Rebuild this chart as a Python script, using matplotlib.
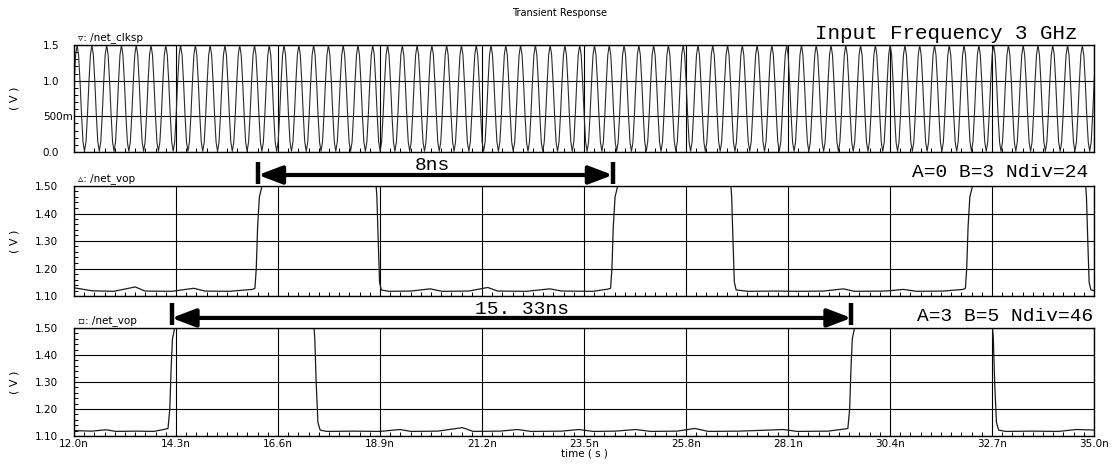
import numpy as np
import matplotlib.pyplot as plt
import matplotlib.transforms as mtransforms
from matplotlib.ticker import FixedLocator

# ---- data (time in ns, voltage in V) ----
x_ticks = [12.0, 14.3, 16.6, 18.9, 21.2, 23.5, 25.8, 28.1, 30.4, 32.7, 35.0]
x_tick_labels = ["12.0n", "14.3n", "16.6n", "18.9n", "21.2n", "23.5n",
                 "25.8n", "28.1n", "30.4n", "32.7n", "35.0n"]

# clock: 3 GHz, one cycle shape (phase, volts), first peak at 12.07n
clk_freq_ghz = 3.0
clk_first_peak = 12.07
clk_phase = [0.0, 0.1, 0.2, 0.3, 0.4, 0.5, 0.6, 0.7, 0.8, 0.9]
clk_volts = [1.50, 1.36, 0.98, 0.52, 0.14, 0.01, 0.14, 0.52, 0.98, 1.36]

# /net_vop  A=0 B=3 Ndiv=24
vop_a_t = [12.00, 12.40, 12.90, 13.38, 13.60, 14.20, 14.70, 14.95, 15.50, 16.02,
           16.08, 16.11, 16.14, 16.18, 16.24, 16.32,
           18.80, 18.83, 18.86, 18.89, 18.93, 19.10, 19.60, 20.03, 20.30, 20.90,
           21.33, 21.55, 22.20, 22.73, 23.00, 23.70, 24.04,
           24.10, 24.13, 24.16, 24.20, 24.26, 24.34,
           26.80, 26.83, 26.86, 26.89, 26.93, 27.20, 27.80, 28.40, 28.90, 29.35,
           29.60, 30.30, 30.70, 31.00, 31.60, 32.05,
           32.10, 32.13, 32.16, 32.20, 32.26, 32.34,
           34.80, 34.83, 34.86, 34.89, 34.93, 35.00]
vop_a_v = [1.130, 1.119, 1.117, 1.133, 1.118, 1.117, 1.128, 1.118, 1.117, 1.124,
           1.128, 1.200, 1.350, 1.460, 1.500, 1.530,
           1.530, 1.460, 1.300, 1.150, 1.122, 1.117, 1.118, 1.126, 1.117, 1.118,
           1.131, 1.118, 1.117, 1.126, 1.118, 1.117, 1.125,
           1.128, 1.200, 1.350, 1.460, 1.500, 1.530,
           1.530, 1.460, 1.300, 1.150, 1.122, 1.117, 1.118, 1.117, 1.118, 1.126,
           1.117, 1.118, 1.124, 1.117, 1.118, 1.124,
           1.128, 1.200, 1.350, 1.460, 1.500, 1.530,
           1.530, 1.460, 1.300, 1.150, 1.122, 1.120]

# /net_vop  A=3 B=5 Ndiv=46
vop_b_t = [12.00, 12.40, 12.72, 12.95, 13.40, 13.80, 14.05,
           14.12, 14.16, 14.19, 14.22, 14.27, 14.34, 14.42,
           17.40, 17.43, 17.46, 17.50, 17.55, 17.70, 18.30, 18.90, 19.35, 19.60,
           20.20, 20.76, 21.00, 21.60, 22.00, 22.30, 23.00, 23.38, 23.70, 24.20,
           24.67, 25.00, 25.60, 26.00, 26.30, 27.00, 28.00, 28.30, 29.00, 29.38,
           29.45, 29.49, 29.52, 29.55, 29.60, 29.67, 29.75,
           32.70, 32.73, 32.76, 32.80, 32.85, 33.00, 33.60, 34.20, 34.60, 35.00]
vop_b_v = [1.120, 1.118, 1.123, 1.117, 1.118, 1.117, 1.125,
           1.128, 1.200, 1.350, 1.460, 1.500, 1.530, 1.530,
           1.530, 1.460, 1.300, 1.150, 1.122, 1.117, 1.118, 1.117, 1.124, 1.117,
           1.118, 1.131, 1.117, 1.118, 1.124, 1.117, 1.118, 1.124, 1.117, 1.118,
           1.124, 1.117, 1.118, 1.128, 1.117, 1.118, 1.124, 1.117, 1.118, 1.126,
           1.128, 1.200, 1.350, 1.460, 1.500, 1.530, 1.530,
           1.530, 1.460, 1.300, 1.150, 1.122, 1.117, 1.118, 1.117, 1.124, 1.122]

# measured intervals (ns)
span_a = (16.15, 24.15)
span_b = (14.20, 29.53)

# ---- clock waveform: repeat one cycle ----
period = 1.0 / clk_freq_ghz
n_cyc = 72
t0 = clk_first_peak - period
clk_t = np.concatenate([t0 + k * period + np.array(clk_phase) * period for k in range(n_cyc)])
clk_v = np.tile(clk_volts, n_cyc)

# ---- figure ----
fig = plt.figure(figsize=(11.2, 4.68), dpi=100)
L, W = 74 / 1120, 1020 / 1120
ax1 = fig.add_axes([L, (468 - 152) / 468, W, 107 / 468])
ax2 = fig.add_axes([L, (468 - 296) / 468, W, 110 / 468])
ax3 = fig.add_axes([L, (468 - 436) / 468, W, 108 / 468])

tick_font = dict(family="DejaVu Sans", size=7.5)
line_kw = dict(color="#1a1a1a", lw=0.9)

ax1.plot(clk_t, clk_v, color="#2a2a2a", lw=0.8)
ax2.plot(vop_a_t, vop_a_v, **line_kw)
ax3.plot(vop_b_t, vop_b_v, **line_kw)

ax1.set_ylim(0, 1.5)
ax1.set_yticks([0, 0.5, 1.0, 1.5])
ax1.set_yticklabels(["0.0", "500m", "1.0", "1.5"], **tick_font)
ax1.yaxis.set_minor_locator(FixedLocator(np.arange(0, 1.51, 0.1)))

for ax in (ax2, ax3):
    ax.set_ylim(1.1, 1.5)
    ax.set_yticks([1.1, 1.2, 1.3, 1.4, 1.5])
    ax.set_yticklabels(["1.10", "1.20", "1.30", "1.40", "1.50"], **tick_font)
    ax.yaxis.set_minor_locator(FixedLocator(np.arange(1.1, 1.51, 0.02)))

for ax, pad in ((ax1, 22.5), (ax2, 28.0), (ax3, 28.0)):
    ax.set_xlim(12.0, 35.0)
    ax.set_xticks(x_ticks)
    ax.xaxis.set_minor_locator(FixedLocator(np.linspace(12.0, 35.0, 101)))
    ax.grid(True, which="major", color="black", lw=0.8)
    ax.tick_params(which="major", length=0)
    ax.tick_params(axis="y", which="major", pad=pad)
    ax.tick_params(which="minor", direction="in", length=3, width=0.7,
                   top=False, right=False)
    for lab in ax.get_yticklabels():
        lab.set_horizontalalignment("left")
    for s in ax.spines.values():
        s.set_color("black")
        s.set_linewidth(1.0)
    ax.set_ylabel("( V )", fontsize=8, labelpad=0)
    ax.yaxis.set_label_coords(-0.053, 0.5)

ax1.set_xticklabels([])
ax2.set_xticklabels([])
ax3.set_xticklabels(x_tick_labels, **tick_font)
ax3.tick_params(axis="x", pad=2)
ax3.set_xlabel("time ( s )", fontsize=7.5, labelpad=0)

# signal names
ax1.text(0.004, 1.015, "\u25bf: /net_clksp", transform=ax1.transAxes, fontsize=7.5, va="bottom")
ax2.text(0.004, 1.015, "\u25b5: /net_vop", transform=ax2.transAxes, fontsize=7.5, va="bottom")
ax3.text(0.004, 1.015, "\u25ab: /net_vop", transform=ax3.transAxes, fontsize=7.5, va="bottom")

fig.text(0.5, 0.972, "Transient Response", ha="center", va="center", fontsize=7)

note_font = dict(family="Liberation Mono", color="black")
ax1.text(0.984, 1.11, "Input Frequency 3 GHz", transform=ax1.transAxes,
         ha="right", va="center", fontsize=15, **note_font)
ax2.text(0.994, 1.125, "A=0 B=3 Ndiv=24", transform=ax2.transAxes,
         ha="right", va="center", fontsize=14, **note_font)
ax3.text(0.999, 1.11, "A=3 B=5 Ndiv=46", transform=ax3.transAxes,
         ha="right", va="center", fontsize=14, **note_font)


def span_arrow(ax, span, y, y_lo, y_hi, label, label_x, label_y):
    tr = mtransforms.blended_transform_factory(ax.transData, ax.transAxes)
    ax.annotate("", xy=(span[1], y), xytext=(span[0], y), xycoords=tr, textcoords=tr,
                annotation_clip=False,
                arrowprops=dict(arrowstyle="<|-|>,head_length=1.45,head_width=0.55",
                                mutation_scale=10, lw=3, color="black",
                                shrinkA=0, shrinkB=0))
    for xs in span:
        ax.plot([xs, xs], [y_lo, y_hi], transform=tr, color="black", lw=3.2,
                clip_on=False, solid_capstyle="butt")
    ax.text(label_x, label_y, label, transform=tr, ha="center", va="center",
            fontsize=14, **note_font)


span_arrow(ax2, span_a, 1.10, 1.018, 1.218, "8ns", 20.07, 1.19)
span_arrow(ax3, span_b, 1.093, 1.028, 1.23, "15. 33ns", 22.1, 1.17)

plt.savefig("out.png", dpi=100)
